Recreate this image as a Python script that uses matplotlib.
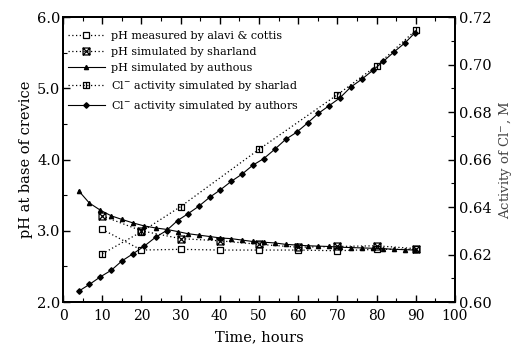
import matplotlib
matplotlib.use("Agg")
import matplotlib.pyplot as plt
from matplotlib.path import Path
from matplotlib.ticker import MultipleLocator, FormatStrFormatter

# ---- data ----
t_authors = [4.0, 6.7, 9.5, 12.3, 15.0, 17.9, 20.6, 23.6, 26.4, 29.2, 31.8, 34.6,
             37.4, 40.1, 42.9, 45.7, 48.4, 51.2, 54.0, 56.8, 59.6, 62.4, 65.1, 67.9,
             70.6, 73.4, 76.2, 79.0, 81.7, 84.5, 87.3, 89.8]
ph_authors = [3.56, 3.39, 3.29, 3.21, 3.16, 3.11, 3.07, 3.04, 3.02, 2.99, 2.96, 2.94,
              2.92, 2.90, 2.89, 2.87, 2.85, 2.84, 2.83, 2.81, 2.80, 2.79, 2.785, 2.78,
              2.77, 2.765, 2.76, 2.755, 2.75, 2.74, 2.735, 2.73]
cl_authors = [0.6046, 0.6074, 0.6106, 0.6134, 0.6173, 0.6204, 0.6234, 0.6273, 0.6301,
              0.6343, 0.6371, 0.6403, 0.6441, 0.6472, 0.6508, 0.6539, 0.6576, 0.6604,
              0.6643, 0.6685, 0.6715, 0.6754, 0.6794, 0.6827, 0.6859, 0.6905, 0.6938,
              0.6975, 0.7013, 0.7054, 0.7092, 0.7134]

t_alavi = [10, 20, 30, 40, 50, 60, 70, 80, 90]
ph_alavi = [3.02, 2.73, 2.74, 2.73, 2.73, 2.73, 2.72, 2.74, 2.74]

t_sharland = [10, 20, 30, 40, 50, 60, 70, 80, 90]
ph_sharland = [3.21, 3.00, 2.89, 2.86, 2.81, 2.77, 2.78, 2.79, 2.75]

t_cl_sharland = [10, 20, 30, 50, 70, 80, 90]
cl_sharland = [0.6203, 0.6296, 0.6402, 0.6643, 0.6873, 0.6995, 0.7145]

labels = ["pH measured by alavi & cottis",
          "pH simulated by sharland",
          "pH simulated by authous",
          "Cl$^{\\mathregular{-}}$ activity simulated by sharlad",
          "Cl$^{\\mathregular{-}}$ activity simulated by authors"]

# ---- custom markers ----
boxx = Path([(-1, -1), (1, -1), (1, 1), (-1, 1), (-1, -1), (1, 1), (-1, 1), (1, -1)],
            [Path.MOVETO, Path.LINETO, Path.LINETO, Path.LINETO, Path.LINETO,
             Path.LINETO, Path.MOVETO, Path.LINETO])
boxbar = Path([(-1, -1), (1, -1), (1, 1), (-1, 1), (-1, -1), (0, -1), (0, 1)],
              [Path.MOVETO, Path.LINETO, Path.LINETO, Path.LINETO, Path.LINETO,
               Path.MOVETO, Path.LINETO])

plt.rcParams['font.family'] = ['DejaVu Serif']
plt.rcParams['mathtext.fontset'] = 'dejavuserif'

fig = plt.figure(figsize=(5.17, 3.48), dpi=100)
ax = fig.add_axes([0.122, 0.132, 0.758, 0.819])
ax2 = ax.twinx()

k = 'black'
dot = (0, (1, 2))
l1, = ax.plot(t_alavi, ph_alavi, ls=dot, lw=0.9, color=k, marker='s', ms=5,
              mfc='white', mec=k, mew=0.9)
l2, = ax.plot(t_sharland, ph_sharland, ls=dot, lw=0.9, color=k, marker=boxx, ms=5,
              mfc='none', mec=k, mew=0.9)
l3, = ax.plot(t_authors, ph_authors, ls='-', lw=0.8, color=k, marker='^', ms=3,
              mfc=k, mec=k)
l4, = ax2.plot(t_cl_sharland, cl_sharland, ls=dot, lw=0.9, color=k, marker=boxbar, ms=5,
               mfc='none', mec=k, mew=0.9)
l5, = ax2.plot(t_authors, cl_authors, ls='-', lw=0.8, color=k, marker='D', ms=2.8,
               mfc=k, mec=k)

ax.set_xlim(0, 100)
ax.set_ylim(2.0, 6.0)
ax2.set_ylim(0.60, 0.72)

ax.xaxis.set_major_locator(MultipleLocator(10))
ax.xaxis.set_minor_locator(MultipleLocator(5))
ax.yaxis.set_major_locator(MultipleLocator(1.0))
ax.yaxis.set_minor_locator(MultipleLocator(0.5))
ax.yaxis.set_major_formatter(FormatStrFormatter('%.1f'))
ax2.yaxis.set_major_locator(MultipleLocator(0.02))
ax2.yaxis.set_minor_locator(MultipleLocator(0.01))
ax2.yaxis.set_major_formatter(FormatStrFormatter('%.2f'))

for a in (ax, ax2):
    for s in a.spines.values():
        s.set_linewidth(1.4)
ax.tick_params(axis='x', which='both', direction='in', top=True, labelsize=10, pad=5)
ax.tick_params(axis='x', which='major', length=5, width=1)
ax.tick_params(axis='x', which='minor', length=3, width=0.8)
ax.tick_params(axis='y', which='both', direction='in', labelsize=10.5, pad=2)
ax.tick_params(axis='y', which='major', length=5, width=1)
ax.tick_params(axis='y', which='minor', length=3, width=0.8)
ax2.tick_params(axis='y', which='both', direction='in', labelsize=10.5, pad=3)
ax2.tick_params(axis='y', which='major', length=5, width=1)
ax2.tick_params(axis='y', which='minor', length=3, width=0.8)

ax.set_xlabel("Time, hours", fontsize=10.5, labelpad=5)
ax.set_ylabel("pH at base of crevice", fontsize=10.5, labelpad=3)
ax2.set_ylabel("Activity of Cl$^{\\mathregular{-}}$, M", fontsize=9.5, color='#444444', labelpad=4)

leg = ax2.legend([l1, l2, l3, l4, l5], labels, loc='upper left', frameon=False,
                 fontsize=8, handlelength=3.4, handletextpad=0.5, labelspacing=0.55,
                 borderaxespad=0.0, bbox_to_anchor=(0.0, 0.967))

fig.savefig("out.png", dpi=100)
